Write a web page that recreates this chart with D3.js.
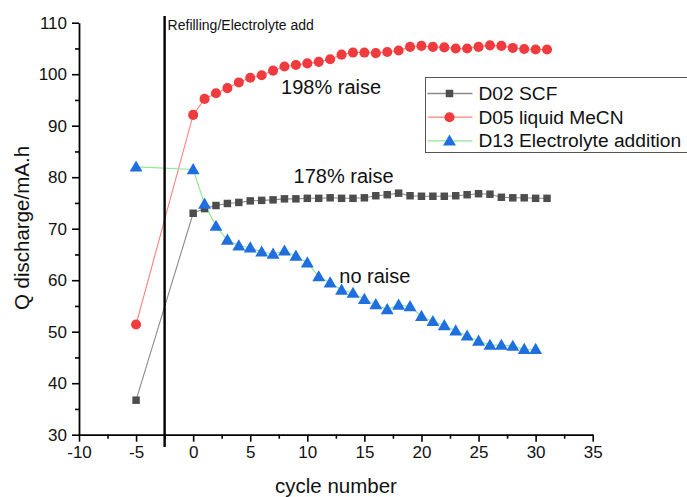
<!DOCTYPE html>
<html>
<head>
<meta charset="utf-8">
<script src="https://cdn.jsdelivr.net/npm/d3@7/dist/d3.min.js"></script>
<style>
  html, body { margin: 0; padding: 0; background: #fff; }
  svg { display: block; font-family: "Liberation Sans", Arial, sans-serif; }
</style>
</head>
<body>
<svg id="chart" width="687" height="497"></svg>
<script>
// Discharge capacity per cycle for three cells
const cyclesLong = [-5, 0, 1, 2, 3, 4, 5, 6, 7, 8, 9, 10, 11, 12, 13, 14, 15, 16, 17, 18, 19, 20, 21, 22, 23, 24, 25, 26, 27, 28, 29, 30, 31];
const cyclesShort = [-5, 0, 1, 2, 3, 4, 5, 6, 7, 8, 9, 10, 11, 12, 13, 14, 15, 16, 17, 18, 19, 20, 21, 22, 23, 24, 25, 26, 27, 28, 29, 30];

const d02 = [36.7, 73.0, 73.9, 74.5, 74.9, 75.1, 75.4, 75.5, 75.6, 75.8, 75.8, 75.9, 75.9, 76.0, 75.9, 75.9, 76.0, 76.4, 76.6, 76.9, 76.4, 76.3, 76.3, 76.3, 76.4, 76.6, 76.8, 76.7, 76.1, 76.0, 76.0, 75.9, 75.9];
const d05 = [51.4, 92.1, 95.2, 96.3, 97.3, 98.4, 99.3, 99.8, 100.7, 101.5, 101.8, 102.1, 102.4, 102.9, 103.8, 104.2, 104.2, 104.1, 104.3, 104.6, 105.3, 105.5, 105.3, 105.2, 105.0, 105.0, 105.3, 105.6, 105.5, 105.1, 104.9, 104.8, 104.8];
const d13 = [82.0, 81.5, 74.8, 70.5, 67.8, 66.7, 66.3, 65.5, 65.1, 65.7, 64.7, 63.4, 60.7, 59.5, 58.1, 57.5, 56.3, 55.3, 54.3, 55.2, 54.9, 53.0, 52.0, 51.2, 50.2, 49.2, 48.2, 47.4, 47.4, 47.2, 46.6, 46.6];

const seriesNames = ["D02 SCF", "D05 liquid MeCN", "D13 Electrolyte addition"];
const xTicks = [-10, -5, 0, 5, 10, 15, 20, 25, 30, 35];
const yTicks = [30, 40, 50, 60, 70, 80, 90, 100, 110];
const markerLine = -2.5;
const markerLabel = "Refilling/Electrolyte add";
const notes = [
  { text: "198% raise", cycle: 7.7, value: 96.1 },
  { text: "178% raise", cycle: 8.8, value: 78.9 },
  { text: "no raise", cycle: 12.8, value: 59.5 }
];

const series = [
  { name: seriesNames[0], x: cyclesLong, y: d02, line: "#8a8a8a", fill: "#4d4d4d", shape: d3.symbolSquare, size: 56 },
  { name: seriesNames[1], x: cyclesLong, y: d05, line: "#ff8080", fill: "#ef3b3d", shape: d3.symbolCircle, size: 80 },
  { name: seriesNames[2], x: cyclesShort, y: d13, line: "#8ee88e", fill: "#1f6fdf", shape: d3.symbolTriangle, size: 72 }
];

const svg = d3.select("#chart");
const x = d3.scaleLinear().domain([-10, 35]).range([79, 592.7]);
const y = d3.scaleLinear().domain([30, 110]).range([434.7, 22.7]);
const plain = d => String(d);

// axes
svg.append("g").attr("transform", `translate(0,${y(30)})`)
  .call(d3.axisBottom(x).tickValues(xTicks).tickFormat(plain).tickSize(7).tickSizeOuter(0).tickPadding(4));
const xMinor = svg.append("g").attr("transform", `translate(0,${y(30)})`)
  .call(d3.axisBottom(x).tickValues(d3.range(-7.5, 35, 5)).tickSize(4).tickFormat(""));
xMinor.select(".domain").remove();

svg.append("g").attr("transform", `translate(${x(-10)},0)`)
  .call(d3.axisLeft(y).tickValues(yTicks).tickFormat(plain).tickSize(7).tickSizeOuter(0).tickPadding(5));
const yMinor = svg.append("g").attr("transform", `translate(${x(-10)},0)`)
  .call(d3.axisLeft(y).tickValues(d3.range(35, 110, 10)).tickSize(4).tickFormat(""));
yMinor.select(".domain").remove();

svg.selectAll(".domain").attr("stroke", "#000").attr("stroke-width", 1.8);
svg.selectAll(".tick line").attr("stroke", "#000").attr("stroke-width", 1.6);
svg.selectAll(".tick text").attr("font-family", "Liberation Sans, Arial, sans-serif")
  .attr("font-size", 17).attr("fill", "#111");

// axis titles
svg.append("text").attr("x", 336).attr("y", 493).attr("text-anchor", "middle")
  .attr("font-size", 20.5).attr("fill", "#111").text("cycle number");
svg.append("text").attr("transform", `translate(29,228) rotate(-90)`).attr("text-anchor", "middle")
  .attr("font-size", 20.5).attr("fill", "#111").text("Q discharge/mA.h");

// connecting lines
const lineGen = (s) => d3.line().x((d, i) => x(s.x[i])).y(d => y(d));
series.forEach(s => {
  svg.append("path").datum(s.y).attr("fill", "none").attr("stroke", s.line)
    .attr("stroke-width", 1.1).attr("d", lineGen(s));
});

// vertical event line
svg.append("line").attr("x1", x(markerLine)).attr("x2", x(markerLine))
  .attr("y1", 16).attr("y2", 447).attr("stroke", "#000").attr("stroke-width", 2.4);
svg.append("text").attr("x", x(markerLine) + 3).attr("y", 30)
  .attr("font-size", 14).attr("fill", "#111").text(markerLabel);

// markers
series.forEach(s => {
  svg.append("g").selectAll("path").data(s.y).join("path")
    .attr("transform", (d, i) => `translate(${x(s.x[i])},${y(d) + (s.shape === d3.symbolTriangle ? 1 : 0)})`)
    .attr("d", d3.symbol().type(s.shape).size(s.size))
    .attr("fill", s.fill);
});

// annotations
notes.forEach(n => {
  svg.append("text").attr("x", x(n.cycle)).attr("y", y(n.value))
    .attr("font-size", 20).attr("fill", "#111").text(n.text);
});

// legend
const lg = svg.append("g").attr("transform", "translate(425.5,77.5)");
lg.append("rect").attr("width", 270).attr("height", 75).attr("fill", "#fff")
  .attr("stroke", "#555").attr("stroke-width", 1);
series.forEach((s, i) => {
  const cy = 16 + i * 23.7;
  lg.append("line").attr("x1", 2).attr("x2", 47).attr("y1", cy).attr("y2", cy)
    .attr("stroke", s.line).attr("stroke-width", 1.3);
  lg.append("path").attr("transform", `translate(24,${cy + (s.shape === d3.symbolTriangle ? 1 : 0)})`)
    .attr("d", d3.symbol().type(s.shape).size(s.size)).attr("fill", s.fill);
  lg.append("text").attr("x", 53).attr("y", cy + 6.5).attr("font-size", 19.2)
    .attr("fill", "#111").text(s.name);
});
</script>
</body>
</html>
